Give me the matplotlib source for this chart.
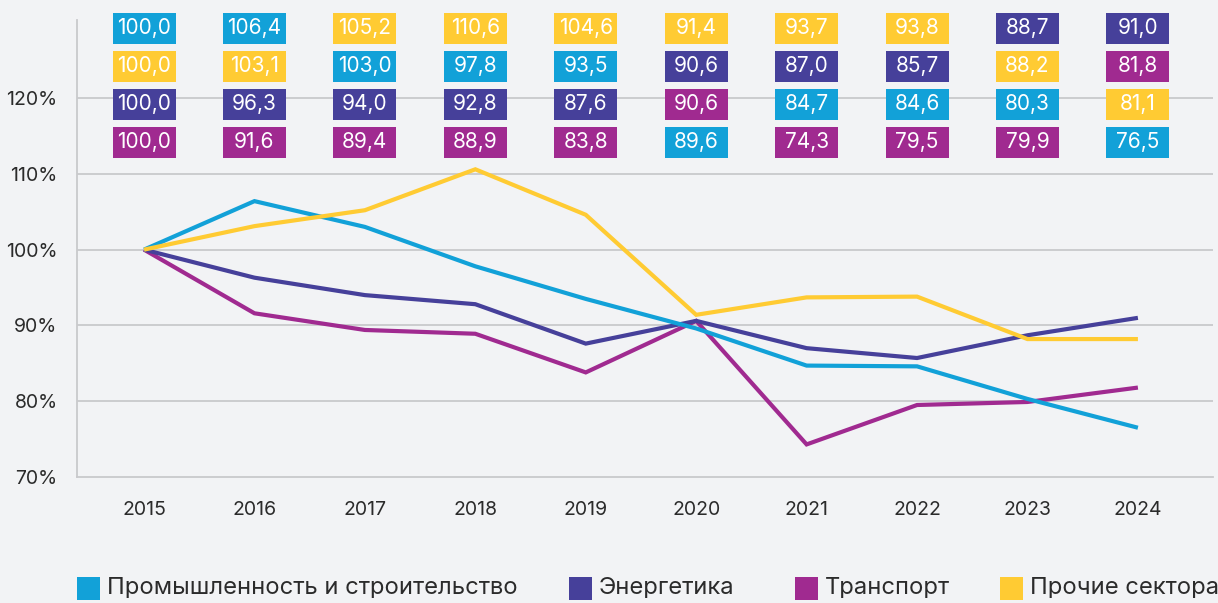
import matplotlib
matplotlib.use("Agg")
import matplotlib.pyplot as plt
from matplotlib.patches import Rectangle

plt.rcParams['font.family'] = ['Inter', 'DejaVu Sans']

years = [2015, 2016, 2017, 2018, 2019, 2020, 2021, 2022, 2023, 2024]
series_names = ["Промышленность и строительство", "Прочие сектора", "Энергетика", "Транспорт"]
industry = [100.0, 106.4, 103.0, 97.8, 93.5, 89.6, 84.7, 84.6, 80.3, 76.5]
other = [100.0, 103.1, 105.2, 110.6, 104.6, 91.4, 93.7, 93.8, 88.2, 88.2]
energy = [100.0, 96.3, 94.0, 92.8, 87.6, 90.6, 87.0, 85.7, 88.7, 91.0]
transport = [100.0, 91.6, 89.4, 88.9, 83.8, 90.6, 74.3, 79.5, 79.9, 81.8]
# label values as printed in the boxes (differs from the line for "other" in 2024)
industry_labels = industry
other_labels = [100.0, 103.1, 105.2, 110.6, 104.6, 91.4, 93.7, 93.8, 88.2, 81.1]
energy_labels = energy
transport_labels = transport
y_ticks = [70, 80, 90, 100, 110, 120]

colors = ["#12a1d8", "#ffcb33", "#46409a", "#a02a90"]
bg = "#f2f3f5"
grid_c = "#c9c9cc"

line_data = [industry, other, energy, transport]
label_data = [industry_labels, other_labels, energy_labels, transport_labels]

fig = plt.figure(figsize=(12.18, 6.03), dpi=100, facecolor=bg)
ax = fig.add_axes([77/1218, 126/603, (1213-77)/1218, (477-20)/603])
ax.set_facecolor(bg)

ax.set_ylim(70, 130.3)
ax.set_xlim(2015 - 0.607, 2024 + 0.68)

for v in y_ticks[1:]:
    ax.axhline(v, color=grid_c, lw=1.3, zorder=1)

for s in ["top", "right"]:
    ax.spines[s].set_visible(False)
for s in ["left", "bottom"]:
    ax.spines[s].set_color(grid_c)
    ax.spines[s].set_linewidth(1.3)

ax.set_yticks(y_ticks)
ax.set_yticklabels([f"{v}%" for v in y_ticks])
ax.set_xticks(years)
ax.set_xticklabels([str(y) for y in years])
ax.tick_params(axis='y', length=0, pad=14, labelsize=14, labelcolor="#2b2b2b")
ax.tick_params(axis='x', length=0, pad=17, labelsize=14, labelcolor="#2b2b2b")

# lines: draw order transport, energy, industry, other
for idx in [3, 2, 0, 1]:
    ax.plot(years, line_data[idx], color=colors[idx], lw=3.0, zorder=3,
            solid_joinstyle='miter', solid_capstyle='butt')

# label boxes
row_y = [129.2, 124.2, 119.2, 114.2]
box_w = 63 / 110.4
box_h = 31 / 7.58
for j, yr in enumerate(years):
    order = sorted(range(4), key=lambda i: -label_data[i][j])
    for r, i in enumerate(order):
        cy = row_y[r]
        ax.add_patch(Rectangle((yr - box_w / 2, cy - box_h / 2), box_w, box_h,
                               facecolor=colors[i], edgecolor='none', zorder=4,
                               clip_on=False))
        ax.text(yr, cy, f"{label_data[i][j]:.1f}".replace(".", ","),
                ha='center', va='center', color='white', fontsize=15, zorder=5)

# legend
leg_order = [0, 2, 3, 1]
leg_x = [77, 569, 795, 1000]
for k, i in enumerate(leg_order):
    x0 = leg_x[k]
    fig.add_artist(Rectangle((x0 / 1218, 3 / 603), 23 / 1218, 23 / 603,
                             transform=fig.transFigure, facecolor=colors[i],
                             edgecolor='none'))
    fig.text((x0 + 30) / 1218, 14.5 / 603, series_names[i], ha='left', va='center',
             fontsize=17.1, color="#2b2b2b")

fig.savefig("out.png", dpi=100, facecolor=bg)
